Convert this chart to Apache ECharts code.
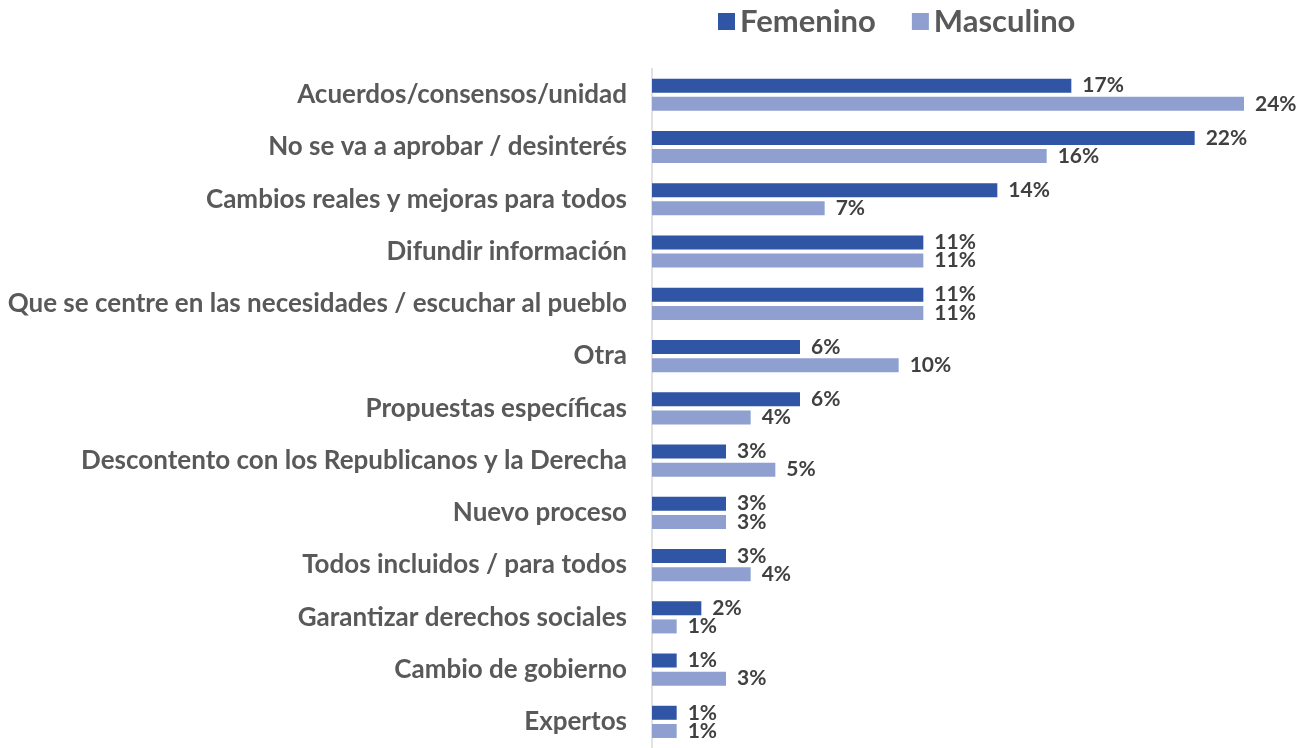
<!DOCTYPE html>
<html><head><meta charset="utf-8">
<script src="https://cdn.jsdelivr.net/npm/echarts@6/dist/echarts.min.js"></script>
<style>html,body{margin:0;padding:0;background:#fff}#c{width:1303px;height:748px}</style>
</head><body><div id="c"></div>
<script>
const categories = [
  "Acuerdos/consensos/unidad",
  "No se va a aprobar / desinterés",
  "Cambios reales y mejoras para todos",
  "Difundir información",
  "Que se centre en las necesidades / escuchar al pueblo",
  "Otra",
  "Propuestas específicas",
  "Descontento con los Republicanos y la Derecha",
  "Nuevo proceso",
  "Todos incluidos / para todos",
  "Garantizar derechos sociales",
  "Cambio de gobierno",
  "Expertos"
];
const femenino = [17, 22, 14, 11, 11, 6, 6, 3, 3, 3, 2, 1, 1];
const masculino = [24, 16, 7, 11, 11, 10, 4, 5, 3, 4, 1, 3, 1];

const FONT = 'Lato';
const chart = echarts.init(document.getElementById('c'));
const labelCfg = {
  show: true, position: 'right', distance: 11,
  formatter: p => p.value + '%',
  fontFamily: FONT, fontWeight: 'bold', fontSize: 21, color: '#404040'
};
chart.setOption({
  animation: false,
  legend: {
    top: 1, left: 713, itemWidth: 17, itemHeight: 17, itemGap: 36,
    icon: 'rect',
    textStyle: { fontFamily: FONT, fontWeight: 'bold', fontSize: 31, color: '#595959' },
    data: ['Femenino', 'Masculino']
  },
  grid: { left: 652, right: 59, top: 68.6, bottom: -6, containLabel: false },
  xAxis: { type: 'value', min: 0, max: 24, show: false },
  yAxis: {
    type: 'category', data: categories, inverse: true,
    axisLine: { show: true, lineStyle: { color: '#d9d9d9', width: 1.5 } },
    axisTick: { show: false },
    axisLabel: { fontFamily: FONT, fontWeight: 'bold', fontSize: 26, color: '#595959', margin: 25 }
  },
  series: [
    { name: 'Femenino', type: 'bar', data: femenino, barWidth: 14, barGap: '30%',
      itemStyle: { color: '#2F55A4' }, label: labelCfg },
    { name: 'Masculino', type: 'bar', data: masculino, barWidth: 14,
      itemStyle: { color: '#8FA0D0' }, label: labelCfg }
  ]
});
</script></body></html>
